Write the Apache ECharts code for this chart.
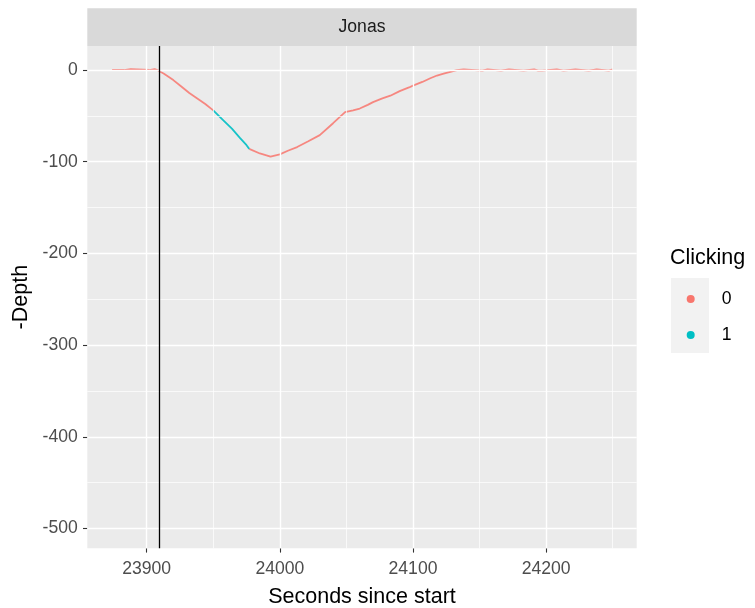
<!DOCTYPE html>
<html>
<head>
<meta charset="utf-8">
<script src="https://cdn.jsdelivr.net/npm/echarts@6/dist/echarts.min.js"></script>
<style>
html,body{margin:0;padding:0;background:#fff;}
#chart{width:755px;height:608px;}
</style>
</head>
<body>
<div id="chart"></div>
<script>
// ---- data ----
const panelLabel = 'Jonas';
const timeSec = [23874,23883,23884,23888,23889,23902,23903,23906,23908,
  23913,23920,23926,23932,23938,23944,23950,23957,23964,23970,23975,23977,
  23985,23993,24000,24006,24013,24021,24030,24040,24049,24055,24060,24066,24070,
  24077,24083,24090,24097,24100,24107,24113,24118,24123,24128,24133,
  24138,24139,24152,24153,24156,24157,24166,24167,24172,24173,24183,24184,24191,
  24194,24197,24198,24208,24209,24213,24214,24222,24223,24232,24233,24238,24239,24247,24248,24250];
const negDepth = [0,0,1,1,0,0,1,1,0,
  -4,-11,-18,-25,-31,-37,-44,-54,-64,-74,-82,-86,
  -91,-94.5,-92,-88,-84,-78,-71,-58,-46,-44,-42,-38,-35,
  -31,-28,-23,-19,-17,-13,-9,-6,-4,-2,0,
  0.8,-0.6,-0.6,0.8,0.8,-0.6,-0.6,0.8,0.8,-0.6,-0.6,0.8,0.8,
  -0.6,-0.6,0.8,0.8,-0.6,-0.6,0.8,0.8,-0.6,-0.6,0.8,0.8,-0.6,-0.6,0.8,0.8];
const clicking = [0,0,0,0,0,0,0,0,0,
  0,0,0,0,0,0,0,1,1,1,1,0,
  0,0,0,0,0,0,0,0,0,0,0,0,0,
  0,0,0,0,0,0,0,0,0,0,0,
  0,0,0,0,0,0,0,0,0,0,0,0,0,
  0,0,0,0,0,0,0,0,0,0,0,0,0,0,0,0];
const clickLevels = ['0','1'];
const clickColors = ['#F8766D','#00BFC4'];
const vlineTime = [23909.2];
const xTicks = [23900,24000,24100,24200];
const xMinor = [23950,24050,24150,24250];
const yTicks = [0,-100,-200,-300,-400,-500];
const yMinor = [-50,-150,-250,-350,-450];
const xLimits = [23855.4, 24268.0];
const yLimits = [-521.6, 26.2];
const xTitle = 'Seconds since start';
const yTitle = '-Depth';
const legendTitle = 'Clicking';

// ---- build series ----
const s0 = timeSec.map((t,i)=> clicking[i]===0 ? [t,negDepth[i]] : [t,'-']);
const s1 = [];
timeSec.forEach((t,i)=>{
  if (clicking[i]===1 || clicking[i-1]===1 || clicking[i+1]===1) s1.push([t,negDepth[i]]);
});

const FONT = "'Liberation Sans', Arial, sans-serif";
const grid = {left:87.3, right:118.3, top:46, bottom:59.7};

const gridLines = [];
xTicks.forEach(v=>gridLines.push({xAxis:v, lineStyle:{color:'#fff',width:1.4,type:'solid'}}));
xMinor.forEach(v=>gridLines.push({xAxis:v, lineStyle:{color:'#fff',width:0.7,type:'solid'}}));
yTicks.forEach(v=>gridLines.push({yAxis:v, lineStyle:{color:'#fff',width:1.4,type:'solid'}}));
yMinor.forEach(v=>gridLines.push({yAxis:v, lineStyle:{color:'#fff',width:0.7,type:'solid'}}));

const chart = echarts.init(document.getElementById('chart'), null, {renderer:'canvas'});
chart.setOption({
  animation:false,
  backgroundColor:'#ffffff',
  textStyle:{fontFamily:FONT},
  grid:{left:grid.left, right:grid.right, top:grid.top, bottom:grid.bottom,
        containLabel:false, outerBoundsMode:'none',
        show:true, backgroundColor:'#EBEBEB', borderWidth:0},
  title:{text:legendTitle, left:670, top:247, padding:0,
         textStyle:{fontFamily:FONT, fontSize:21.5, fontWeight:'normal', color:'#000'}},
  legend:{data:clickLevels, orient:'vertical', left:686.7, top:289, padding:0,
          icon:'circle', itemWidth:8, itemHeight:8, itemGap:16,
          textStyle:{fontFamily:FONT, fontSize:17.6, color:'#000', lineHeight:20, padding:[0,0,0,22]}},
  xAxis:{type:'value', min:xLimits[0], max:xLimits[1],
    name:xTitle, nameLocation:'middle', nameGap:38,
    nameTextStyle:{fontFamily:FONT, fontSize:21.5, color:'#000'},
    axisLine:{show:false, onZero:false},
    axisTick:{show:true, length:4.3, customValues:xTicks, lineStyle:{color:'#333333',width:1.1}},
    axisLabel:{show:true, customValues:xTicks, margin:12, fontFamily:FONT, fontSize:17.6, color:'#4D4D4D',
      formatter:v=>String(Math.round(v))},
    splitLine:{show:false}},
  yAxis:{type:'value', min:yLimits[0], max:yLimits[1],
    name:yTitle, nameLocation:'middle', nameGap:52, nameRotate:90,
    nameTextStyle:{fontFamily:FONT, fontSize:21.5, color:'#000'},
    axisLine:{show:false, onZero:false},
    axisTick:{show:true, length:4.3, customValues:yTicks, lineStyle:{color:'#333333',width:1.1}},
    axisLabel:{show:true, customValues:yTicks, margin:9.5, fontFamily:FONT, fontSize:17.6, color:'#4D4D4D',
      formatter:v=>String(Math.round(v))},
    splitLine:{show:false}},
  graphic:[
    {type:'rect', shape:{x:87.3, y:8.3, width:549.4, height:37.7}, style:{fill:'#D9D9D9'}, silent:true},
    {type:'text', x:362, y:27.5, style:{text:panelLabel, font:"17.6px "+FONT, fill:'#1A1A1A', textAlign:'center', textVerticalAlign:'middle'}, silent:true},
    {type:'rect', shape:{x:671, y:278, width:38, height:75}, style:{fill:'#F2F2F2'}, silent:true, z:-1}
  ],
  series:[
    {type:'line', name:'_grid', data:[], z:1, silent:true,
     markLine:{silent:true, symbol:['none','none'], label:{show:false}, animation:false, data:gridLines}},
    {type:'line', name:clickLevels[0], data:s0, z:3, showSymbol:false, symbol:'circle', symbolSize:8,
     connectNulls:false, color:clickColors[0], lineStyle:{color:clickColors[0], width:1.8, opacity:0.85}},
    {type:'line', name:clickLevels[1], data:s1, z:3, showSymbol:false, symbol:'circle', symbolSize:8,
     color:clickColors[1], lineStyle:{color:clickColors[1], width:1.8, opacity:0.9}},
    {type:'line', name:'_vline', data:[], z:4, silent:true,
     markLine:{silent:true, symbol:['none','none'], label:{show:false}, animation:false,
       data:vlineTime.map(v=>({xAxis:v, lineStyle:{color:'#000', width:1.3, type:'solid'}}))}}
  ]
});
</script>
</body>
</html>
